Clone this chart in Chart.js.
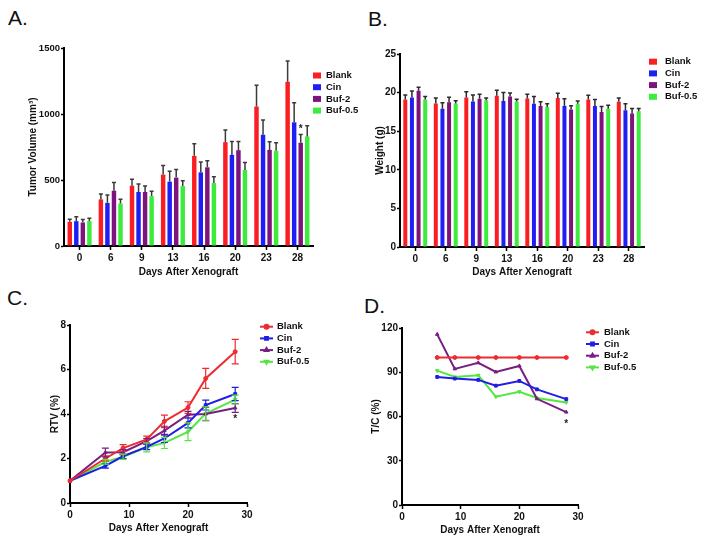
<!DOCTYPE html>
<html>
<head>
<meta charset="utf-8">
<script src="https://cdn.jsdelivr.net/npm/chart.js@4"></script>
<style>
body { margin: 0; background: #fff; width: 702px; height: 541px; position: relative; overflow: hidden; font-family: 'Liberation Sans', Arial, sans-serif; }
canvas { position: absolute; }
.tag { position: absolute; font-size: 21px; line-height: 21px; color: #111; }
</style>
</head>
<body>
<div class="tag" style="left:8px;top:7px">A.</div>
<div class="tag" style="left:368px;top:8px">B.</div>
<div class="tag" style="left:7px;top:287px">C.</div>
<div class="tag" style="left:364px;top:295px">D.</div>
<canvas id="WeightChart" width="351" height="285" style="left:351px;top:0"></canvas>
<canvas id="VolumeChart" width="372" height="285" style="left:0;top:0"></canvas>
<canvas id="RtvChart" width="351" height="261" style="left:0;top:280px"></canvas>
<canvas id="TcChart" width="351" height="261" style="left:351px;top:280px"></canvas>
<script>
const groups = ['Blank', 'Cin', 'Buf-2', 'Buf-0.5'];
const days = ['0', '6', '9', '13', '16', '20', '23', '28'];
const rtvDays = [0, 6, 9, 13, 16, 20, 23, 28];
const tcDays = [6, 9, 13, 16, 20, 23, 28];

// A. tumor volume (mm3), mean and upper error
const blankVol = [183, 353, 457, 541, 683, 787, 1056, 1244];
const blankVolErr = [20, 40, 48, 68, 91, 91, 162, 157];
const cinVol = [188, 327, 409, 487, 558, 690, 843, 937];
const cinVolErr = [33, 59, 61, 79, 79, 102, 111, 149];
const buf2Vol = [178, 419, 409, 518, 596, 726, 728, 782];
const buf2VolErr = [22, 63, 45, 61, 49, 66, 61, 63];
const buf05Vol = [188, 322, 378, 454, 477, 576, 721, 830];
const buf05VolErr = [23, 33, 36, 41, 48, 56, 61, 81];

// B. body weight (g)
const blankW = [19.1, 18.6, 19.35, 19.6, 19.25, 19.3, 19.1, 18.8];
const blankWErr = [0.6, 0.7, 0.75, 0.7, 0.55, 0.6, 0.55, 0.5];
const cinW = [19.35, 17.9, 18.85, 18.9, 18.55, 18.25, 18.25, 17.7];
const cinWErr = [0.85, 0.8, 0.85, 1.1, 0.95, 0.95, 0.85, 0.85];
const buf2W = [20.25, 18.75, 19.2, 19.5, 18.25, 17.8, 17.5, 17.3];
const buf2WErr = [0.45, 0.65, 0.6, 0.45, 0.55, 0.5, 0.7, 0.65];
const buf05W = [19.1, 18.6, 19.0, 18.85, 18.15, 18.55, 17.9, 17.6];
const buf05WErr = [0.4, 0.35, 0.3, 0.3, 0.4, 0.35, 0.45, 0.35];

// C. relative tumor volume
const blankRtv = [1, 2.0, 2.47, 2.86, 3.67, 4.29, 5.6, 6.8];
const blankRtvErr = [0, 0.12, 0.15, 0.15, 0.28, 0.26, 0.45, 0.55];
const cinRtv = [1, 1.67, 2.1, 2.52, 2.9, 3.6, 4.4, 4.9];
const cinRtvErr = [0, 0.1, 0.1, 0.12, 0.18, 0.22, 0.22, 0.3];
const buf2Rtv = [1, 2.27, 2.28, 2.78, 3.25, 3.97, 4.0, 4.27];
const buf2RtvErr = [0, 0.2, 0.12, 0.12, 0.2, 0.15, 0.3, 0.2];
const buf05Rtv = [1, 1.85, 2.08, 2.5, 2.7, 3.2, 4.02, 4.65];
const buf05RtvErr = [0, 0.1, 0.12, 0.2, 0.25, 0.4, 0.3, 0.2];

// D. T/C (%)
const blankTc = [100, 100, 100, 100, 100, 100, 100];
const cinTc = [86.8, 85.7, 84.8, 80.9, 84.1, 78.4, 71.8];
const buf2Tc = [115.7, 92.3, 96.4, 90.2, 94.3, 72, 63];
const buf05Tc = [91.1, 86.8, 88, 73.4, 76.8, 72.5, 69.5];

const barColors = ['rgb(250, 30, 35)', 'rgb(30, 30, 245)', 'rgb(125, 20, 125)', 'rgb(60, 235, 60)'];
const lineColors = ['rgb(235, 45, 50)', 'rgb(30, 30, 230)', 'rgb(120, 30, 130)', 'rgb(85, 230, 65)'];
const markers = ['circle', 'rect', 'triangle', 'triangle'];
const markerRot = [0, 0, 0, 180];
const FONT = "'Liberation Sans', Arial, sans-serif";

Chart.defaults.font.family = FONT;
Chart.defaults.font.size = 10;
Chart.defaults.font.weight = 'bold';
Chart.defaults.color = '#111';
Chart.defaults.animation = false;

// error bars drawn from the parsed values and each dataset's errors array
const errorBars = {
    id: 'errorBars',
    afterDatasetsDraw(chart, args, opts) {
        const ctx = chart.ctx;
        const yScale = chart.scales.y;
        chart.data.datasets.forEach((ds, i) => {
            if (!ds.errors) return;
            const meta = chart.getDatasetMeta(i);
            ctx.save();
            ctx.strokeStyle = opts.color || ds.borderColor;
            ctx.lineWidth = opts.width;
            meta.data.forEach((el, j) => {
                const e = ds.errors[j];
                if (!e) return;
                const v = meta.controller.getParsed(j).y;
                const top = yScale.getPixelForValue(v + e);
                const bot = opts.upOnly ? el.y : yScale.getPixelForValue(v - e);
                const c = opts.cap / 2;
                ctx.beginPath();
                ctx.moveTo(el.x, bot);
                ctx.lineTo(el.x, top);
                ctx.moveTo(el.x - c, top);
                ctx.lineTo(el.x + c, top);
                if (!opts.upOnly) {
                    ctx.moveTo(el.x - c, bot);
                    ctx.lineTo(el.x + c, bot);
                }
                ctx.stroke();
            });
            ctx.restore();
        });
    }
};

const sideLegend = {
    id: 'sideLegend',
    afterDraw(chart, args, o) {
        const ctx = chart.ctx;
        ctx.save();
        ctx.font = 'bold 9.5px ' + FONT;
        ctx.textBaseline = 'middle';
        chart.data.datasets.forEach((ds, i) => {
            const y = o.y + i * o.gap;
            if (o.kind === 'box') {
                ctx.fillStyle = ds.backgroundColor;
                ctx.fillRect(o.x, y - 3, 8, 6);
            } else {
                ctx.strokeStyle = ds.borderColor;
                ctx.fillStyle = ds.borderColor;
                ctx.lineWidth = 2;
                ctx.beginPath();
                ctx.moveTo(o.x, y);
                ctx.lineTo(o.x + 13, y);
                ctx.stroke();
                Chart.helpers.drawPoint(ctx, {pointStyle: ds.pointStyle, radius: 2, rotation: ds.pointRotation || 0, borderWidth: 1}, o.x + 6.5, y);
            }
            ctx.fillStyle = '#111';
            ctx.fillText(ds.label, o.x + o.textGap, y);
        });
        ctx.restore();
    }
};

const starMark = {
    id: 'starMark',
    afterDraw(chart, args, o) {
        const el = chart.getDatasetMeta(o.dataset).data[o.index];
        const ctx = chart.ctx;
        ctx.save();
        ctx.font = 'bold 10px ' + FONT;
        ctx.fillStyle = '#222';
        ctx.textAlign = 'center';
        ctx.fillText('*', el.x, el.y + o.dy);
        ctx.restore();
    }
};

function xAxis(height, extra) {
    return Object.assign({
        afterFit: s => { s.height = height; },
        border: {color: '#000', width: 2},
        grid: {drawOnChartArea: false, offset: false, tickLength: 4, tickColor: '#000', tickWidth: 1.5},
        ticks: {padding: 2, maxRotation: 0, autoSkip: false},
        title: {display: true, text: 'Days After Xenograft', padding: 0}
    }, extra);
}

function yAxis(width, title, min, max, step, size) {
    return {
        min: min,
        max: max,
        afterFit: s => { s.width = width; },
        border: {color: '#000', width: 2},
        grid: {drawOnChartArea: false, tickLength: 3, tickColor: '#000', tickWidth: 1.5},
        ticks: {stepSize: step, padding: 1, font: {size: size || 10}, callback: v => String(v)},
        title: {display: true, text: title, padding: 0}
    };
}

function barSets(values, errors) {
    return groups.map((g, i) => ({
        label: g,
        data: values[i],
        errors: errors[i],
        backgroundColor: barColors[i],
        borderWidth: 0
    }));
}

function lineSets(xs, values, errors) {
    return groups.map((g, i) => ({
        label: g,
        data: xs.map((x, j) => ({x: x, y: values[i][j]})),
        errors: errors ? errors[i] : null,
        borderColor: lineColors[i],
        backgroundColor: lineColors[i],
        borderWidth: 2,
        pointStyle: markers[i],
        pointRotation: markerRot[i],
        pointRadius: 2,
        pointBorderWidth: 1,
        tension: 0,
        clip: false
    }));
}

new Chart(document.getElementById('VolumeChart'), {
    type: 'bar',
    data: {
        labels: days,
        datasets: barSets([blankVol, cinVol, buf2Vol, buf05Vol], [blankVolErr, cinVolErr, buf2VolErr, buf05VolErr])
    },
    options: {
        responsive: false,
        categoryPercentage: 0.84,
        barPercentage: 0.68,
        layout: {padding: {left: 27, top: 48, right: 59, bottom: 7}},
        scales: {
            x: xAxis(32),
            y: yAxis(37, 'Tumor Volume (mm³)', 0, 1500, 500, 9.5)
        },
        plugins: {
            legend: {display: false},
            tooltip: {enabled: false},
            errorBars: {color: '#3a3a3a', width: 1.5, cap: 4, upOnly: true},
            sideLegend: {kind: 'box', x: 313, y: 75.5, gap: 11.7, textGap: 13},
            starMark: {dataset: 2, index: 7, dy: -10.5}
        }
    },
    plugins: [errorBars, sideLegend, starMark]
});

new Chart(document.getElementById('WeightChart'), {
    type: 'bar',
    data: {
        labels: days,
        datasets: barSets([blankW, cinW, buf2W, buf05W], [blankWErr, cinWErr, buf2WErr, buf05WErr])
    },
    options: {
        responsive: false,
        categoryPercentage: 0.87,
        barPercentage: 0.6,
        layout: {padding: {left: 23, top: 54, right: 58, bottom: 7}},
        scales: {
            x: xAxis(31),
            y: yAxis(26, 'Weight (g)', 0, 25, 5)
        },
        plugins: {
            legend: {display: false},
            tooltip: {enabled: false},
            errorBars: {color: '#2a2a2a', width: 1.5, cap: 4, upOnly: true},
            sideLegend: {kind: 'box', x: 298, y: 61.7, gap: 11.7, textGap: 16}
        }
    },
    plugins: [errorBars, sideLegend]
});

new Chart(document.getElementById('RtvChart'), {
    type: 'line',
    data: {
        datasets: lineSets(rtvDays, [blankRtv, cinRtv, buf2Rtv, buf05Rtv], [blankRtvErr, cinRtvErr, buf2RtvErr, buf05RtvErr])
    },
    options: {
        responsive: false,
        layout: {padding: {left: 49, top: 45, right: 104, bottom: 7}},
        scales: {
            x: xAxis(31, {type: 'linear', min: 0, max: 30, ticks: {stepSize: 10, padding: 2, maxRotation: 0}}),
            y: yAxis(21, 'RTV (%)', 0, 8, 2)
        },
        plugins: {
            legend: {display: false},
            tooltip: {enabled: false},
            errorBars: {width: 1.2, cap: 7, upOnly: false},
            sideLegend: {kind: 'line', x: 260, y: 46.7, gap: 11.7, textGap: 17},
            starMark: {dataset: 2, index: 7, dy: 14}
        }
    },
    plugins: [errorBars, sideLegend, starMark]
});

new Chart(document.getElementById('TcChart'), {
    type: 'line',
    data: {
        datasets: lineSets(tcDays, [blankTc, cinTc, buf2Tc, buf05Tc], null)
    },
    options: {
        responsive: false,
        layout: {padding: {left: 19, top: 48, right: 124, bottom: 5}},
        scales: {
            x: xAxis(31, {type: 'linear', min: 0, max: 30, ticks: {stepSize: 10, padding: 2, maxRotation: 0}}),
            y: yAxis(32, 'T/C (%)', 0, 120, 30)
        },
        plugins: {
            legend: {display: false},
            tooltip: {enabled: false},
            sideLegend: {kind: 'line', x: 235, y: 52.3, gap: 11.7, textGap: 18},
            starMark: {dataset: 2, index: 6, dy: 14.5}
        }
    },
    plugins: [sideLegend, starMark]
});
</script>
</body>
</html>
